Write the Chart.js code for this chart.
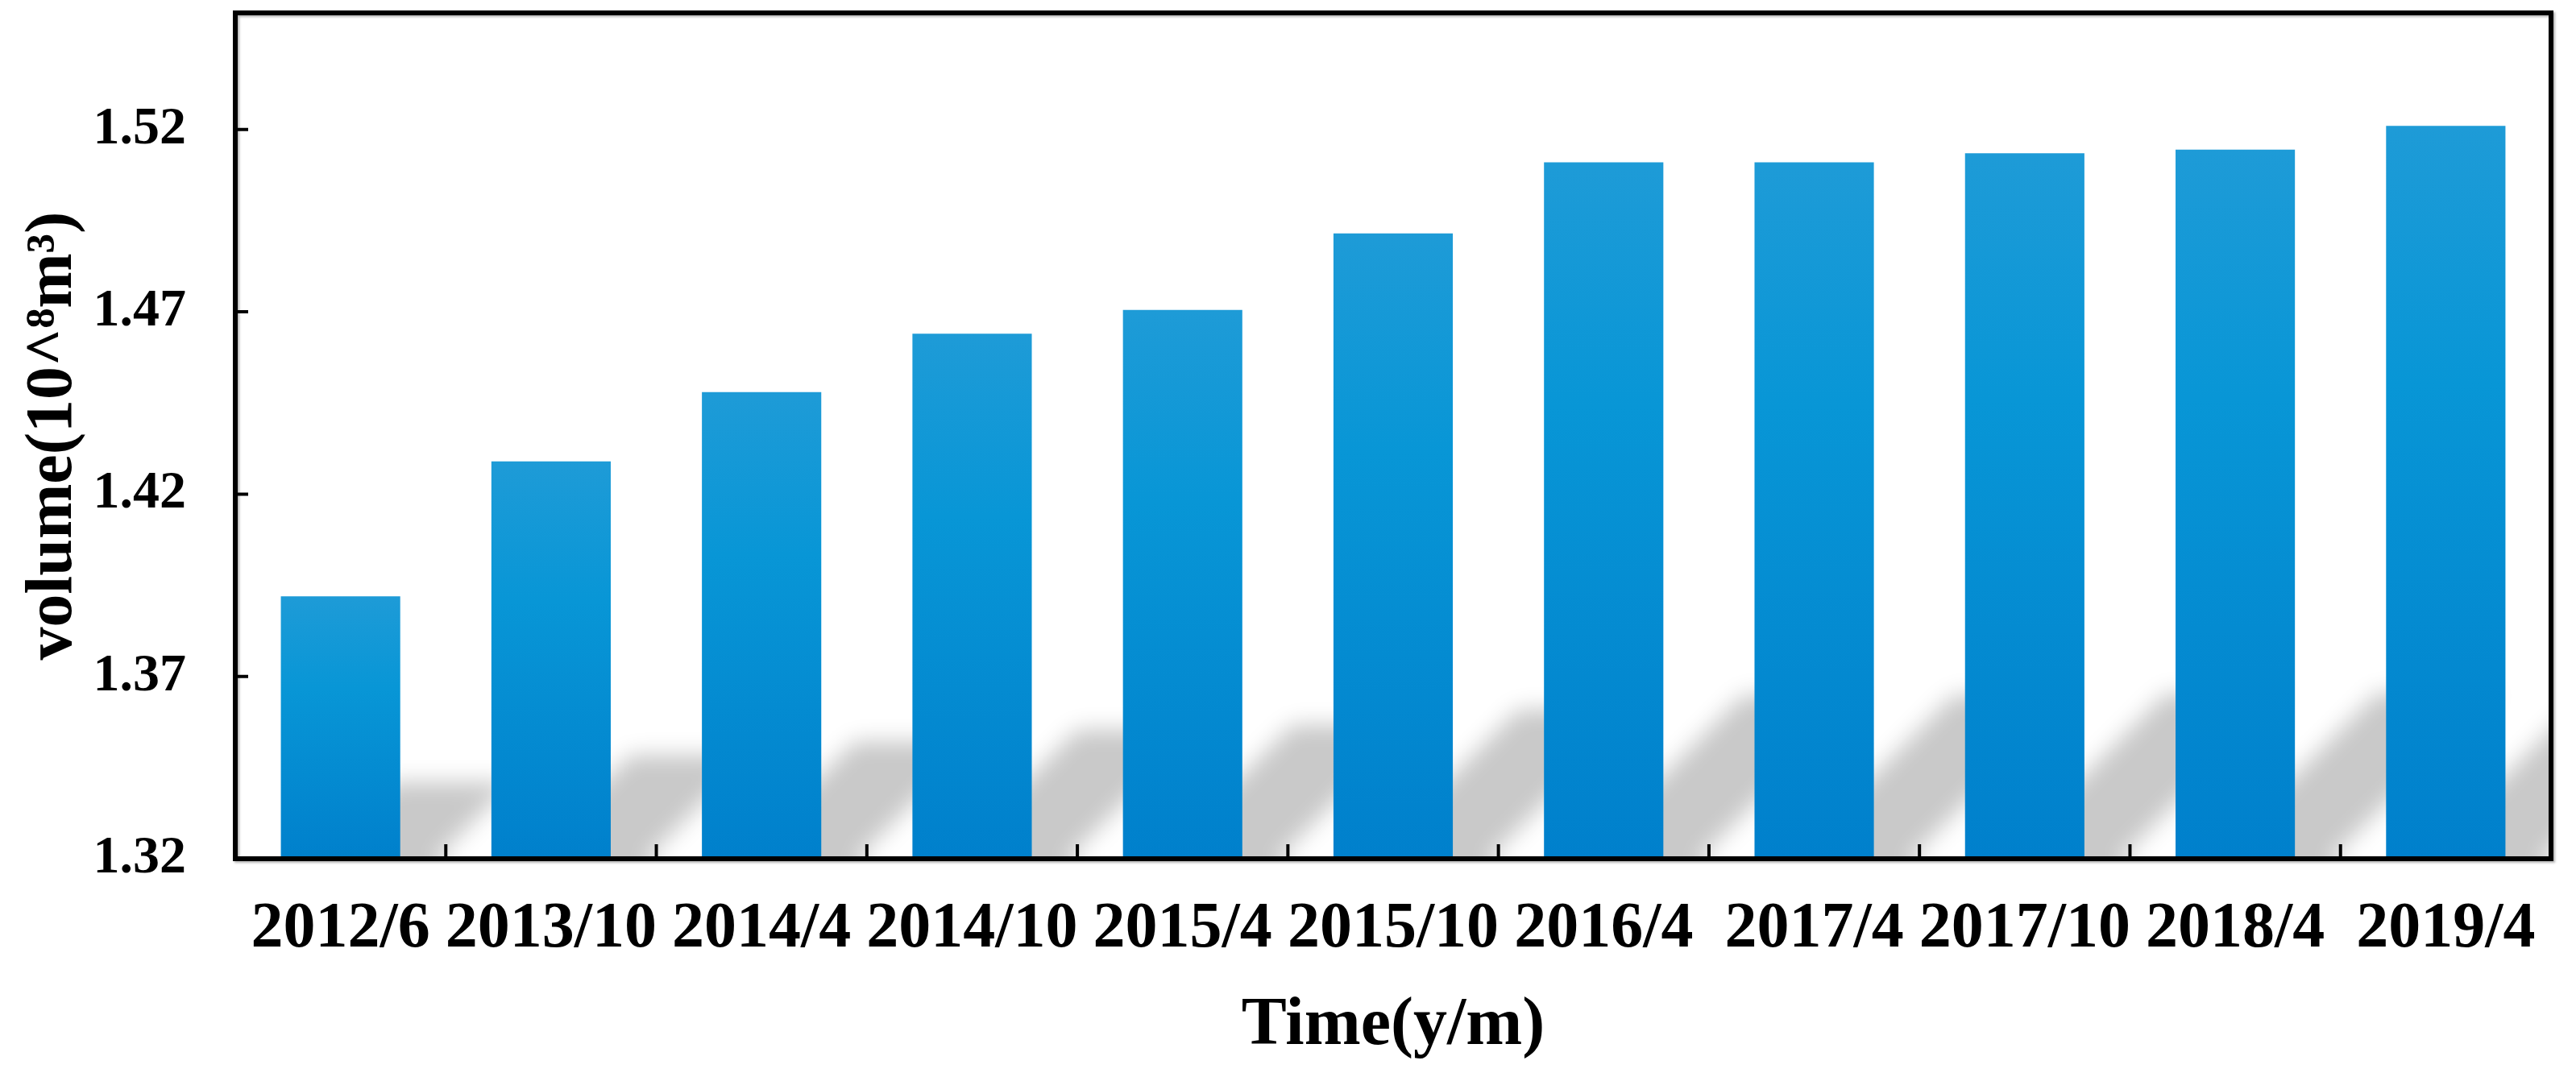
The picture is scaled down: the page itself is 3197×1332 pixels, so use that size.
<!DOCTYPE html>
<html>
<head>
<meta charset="utf-8">
<script src="https://cdn.jsdelivr.net/npm/chart.js@4.4.1/dist/chart.umd.min.js"></script>
<style>
  html, body { margin: 0; padding: 0; background: #fff; }
  #wrap { width: 3197px; height: 1332px; }
</style>
</head>
<body>
<div id="wrap"><canvas id="js--chart-volume"></canvas></div>
<script>
const categories = ["2012/6", "2013/10", "2014/4", "2014/10", "2015/4", "2015/10", "2016/4", "2017/4", "2017/10", "2018/4", "2019/4"];
const volumes = [1.392, 1.429, 1.448, 1.464, 1.4705, 1.4915, 1.511, 1.511, 1.5135, 1.5145, 1.521];
const yTicks = [1.32, 1.37, 1.42, 1.47, 1.52];

const serif = "'Liberation Serif', 'Times New Roman', serif";
const barPct = 0.567;

// each bar gets its own top-to-bottom gradient
function barGradient(context) {
    const chart = context.chart;
    const yScale = chart.scales.y;
    if (!chart.chartArea || !yScale || context.raw === undefined) return '#0090d4';
    const top = yScale.getPixelForValue(context.raw);
    const bottom = yScale.getPixelForValue(yScale.min);
    const g = chart.ctx.createLinearGradient(0, top, 0, bottom);
    g.addColorStop(0, '#1e9bd7');
    g.addColorStop(0.35, '#0896d6');
    g.addColorStop(1, '#0080cc');
    return g;
}

// grey slanted shadow behind every bar (shape drawn off-canvas, only its blurred shadow lands)
const shadowPlugin = {
    id: 'barShadow',
    beforeDatasetsDraw(chart) {
        const { ctx, chartArea, scales } = chart;
        const shift = 5000;
        const step = scales.x.getPixelForValue(1) - scales.x.getPixelForValue(0);
        const w = step * barPct;
        const base = scales.y.getPixelForValue(scales.y.min);
        ctx.save();
        ctx.beginPath();
        ctx.rect(chartArea.left, chartArea.top, chartArea.width, chartArea.height);
        ctx.clip();
        ctx.fillStyle = '#000';
        ctx.shadowColor = '#c9c9c9';
        ctx.shadowBlur = 28;
        ctx.shadowOffsetX = shift;
        ctx.shadowOffsetY = 0;
        volumes.forEach((v, i) => {
            const x = scales.x.getPixelForValue(i);
            const h = base - scales.y.getPixelForValue(v);
            const d = h * 0.2 + 30;           // how far the shadow climbs
            const s = w * 0.3;                // shadow foot sits a bit to the right
            const l = x - w / 2 + s - shift, r = x + w / 2 + s - shift;
            ctx.beginPath();
            ctx.moveTo(l, base + 40);
            ctx.lineTo(r + 40, base + 40);
            ctx.lineTo(r, base);
            ctx.lineTo(r + d, base - d);
            ctx.lineTo(l + d, base - d);
            ctx.lineTo(l, base);
            ctx.closePath();
            ctx.fill();
        });
        ctx.restore();
    }
};

// black frame plus inward tick marks
const framePlugin = {
    id: 'frame',
    afterDraw(chart) {
        const { ctx, chartArea, scales } = chart;
        ctx.save();
        ctx.strokeStyle = '#000';
        ctx.lineWidth = 4;
        ctx.beginPath();
        yTicks.forEach(v => {
            const y = scales.y.getPixelForValue(v);
            ctx.moveTo(chartArea.left, y);
            ctx.lineTo(chartArea.left + 16, y);
        });
        for (let i = 1; i < categories.length; i++) {
            const x = (scales.x.getPixelForValue(i - 1) + scales.x.getPixelForValue(i)) / 2;
            ctx.moveTo(x, chartArea.bottom);
            ctx.lineTo(x, chartArea.bottom - 18);
        }
        ctx.stroke();
        ctx.shadowColor = 'rgba(0,0,0,0.3)';
        ctx.shadowBlur = 3;
        ctx.shadowOffsetX = 2;
        ctx.shadowOffsetY = 2;
        ctx.lineWidth = 6;
        ctx.strokeRect(chartArea.left, chartArea.top, chartArea.width, chartArea.height);
        ctx.restore();
    }
};

const ctx = document.getElementById("js--chart-volume").getContext("2d");

const chart = new Chart(ctx, {
    type: 'bar',
    data: {
        labels: categories,
        datasets: [{
            label: 'volume',
            data: volumes,
            backgroundColor: barGradient,
            borderWidth: 0,
            barPercentage: barPct,
            categoryPercentage: 1
        }]
    },
    options: {
        responsive: true,
        maintainAspectRatio: false,
        animation: false,
        devicePixelRatio: 1,
        layout: { padding: { top: 16, right: 31, left: 0, bottom: 0 } },
        plugins: {
            legend: { display: false },
            tooltip: { enabled: false }
        },
        scales: {
            x: {
                grid: { display: false, drawTicks: false },
                border: { display: false },
                ticks: {
                    color: '#000',
                    padding: 48,
                    maxRotation: 0,
                    autoSkip: false,
                    font: { family: serif, weight: 'bold', size: 80, lineHeight: 1 }
                },
                title: {
                    display: true,
                    text: 'Time(y/m)',
                    color: '#000',
                    padding: { top: 0, bottom: 16 },
                    font: { family: serif, weight: 'bold', size: 84, lineHeight: 1 }
                },
                afterFit(scale) {
                    scale.height = 266;
                    scale.paddingLeft = 0;
                    scale.paddingRight = 0;
                }
            },
            y: {
                min: 1.32,
                max: 1.552,
                grid: { display: false, drawTicks: false },
                border: { display: false },
                afterBuildTicks(scale) {
                    scale.ticks = yTicks.map(v => ({ value: v }));
                },
                ticks: {
                    color: '#000',
                    padding: 61,
                    callback: v => v.toFixed(2),
                    font: { family: serif, weight: 'bold', size: 66, lineHeight: 1 }
                },
                title: {
                    display: true,
                    text: 'volume(10^\u2078m\u00b3)',
                    color: '#000',
                    padding: { top: 26, bottom: 0 },
                    font: { family: serif, weight: 'bold', size: 82, lineHeight: 1 }
                },
                afterFit(scale) {
                    scale.width = 292;
                    scale.paddingTop = 0;
                    scale.paddingBottom = 0;
                }
            }
        }
    },
    plugins: [shadowPlugin, framePlugin]
});
</script>
</body>
</html>
